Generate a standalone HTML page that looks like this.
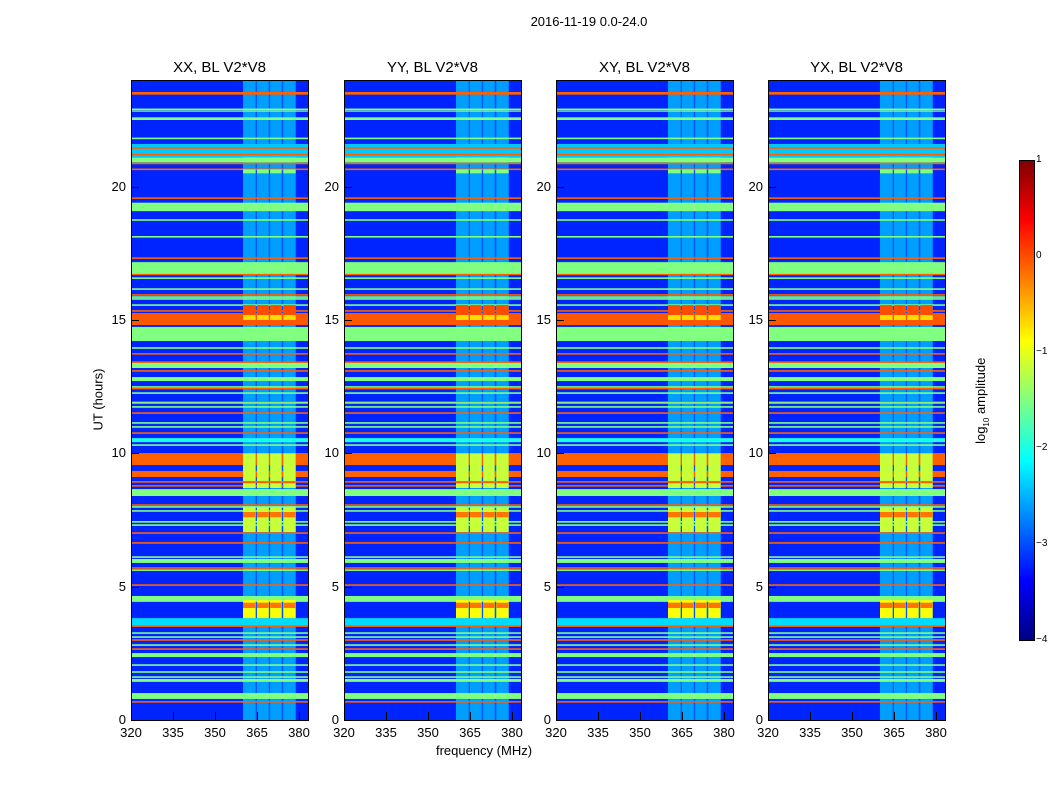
<!DOCTYPE html>
<html><head><meta charset="utf-8">
<style>
body{margin:0;background:#fff;width:1050px;height:800px;position:relative;overflow:hidden;font-family:"Liberation Sans",sans-serif;color:#000}
.t{position:absolute;white-space:nowrap}
canvas{position:absolute;image-rendering:pixelated}
.frame{position:absolute;border:1px solid #000;box-sizing:border-box}
</style></head>
<body>
<div class="t" style="left:489px;top:14px;width:200px;text-align:center;font-size:13px">2016-11-19 0.0-24.0</div>
<div class="t" style="left:48px;top:392px;width:100px;text-align:center;font-size:13px;transform:rotate(-90deg)">UT (hours)</div>
<div class="t" style="left:384px;top:743px;width:200px;text-align:center;font-size:13px">frequency (MHz)</div>
<div id="root"></div>
<canvas id="cbar" width="15" height="480" style="left:1019px;top:160px;width:15px;height:480px"></canvas>
<div class="frame" style="left:1019px;top:160px;width:16px;height:481px"></div>
<div class="t" style="left:932px;top:392px;width:100px;text-align:center;font-size:13px;transform:rotate(-90deg)">log<sub style="font-size:8px">10</sub> amplitude</div>
<script>
const panelTitles=["XX, BL V2*V8","YY, BL V2*V8","XY, BL V2*V8","YX, BL V2*V8"];
const xTicks=[320,335,350,365,380];
const yTicks=[0,5,10,15,20];
const cbTicks=[1,0,-1,-2,-3,-4];
const bgValue=-3.2;
const blockNoiseValue=-2.6;
const blockGapValue=-2.95;
const subBlocksMHz=[[360,364.5],[365,369.2],[369.7,373.8],[374.4,378.8]];
const bandStart=[23.45,22.87,22.81,22.5,21.78,21.1,21.42,21.17,20.9,20.84,20.62,19.54,19.08,18.72,18.09,17.29,16.72,16.68,16.54,16.13,15.91,15.83,15.76,15.53,15.31,14.81,14.21,13.92,13.7,13.39,13.2,13.06,12.71,12.46,12.4,12.23,11.89,11.86,11.71,11.48,11.11,10.96,10.73,10.42,10.28,9.56,9.11,8.9,8.75,8.4,8.03,7.96,7.81,7.4,7.28,6.98,6.61,6.08,5.89,5.67,5.59,5.03,4.43,3.52,3.49,3.23,3.08,2.97,2.78,2.63,2.36,2.03,1.77,1.58,1.43,0.79,0.65];
const bandEnd=[23.55,22.93,22.86,22.6,21.84,21.6,21.48,21.23,21.1,20.9,20.68,19.6,19.4,18.78,18.15,17.35,17.17,16.73,16.6,16.19,15.97,15.89,15.82,15.59,15.37,15.26,14.74,13.98,13.76,13.45,13.39,13.12,12.86,12.52,12.45,12.29,11.95,11.92,11.77,11.54,11.17,11.02,10.79,10.57,10.34,10.01,9.34,8.96,8.81,8.66,8.09,8.02,7.87,7.46,7.34,7.04,6.67,6.14,6.04,5.73,5.65,5.09,4.65,3.82,3.55,3.29,3.14,3.03,2.84,2.69,2.51,2.09,1.83,1.64,1.54,1.01,0.71];
const bandValue=[-0.1,-1.5,-1.5,-1.5,-1.5,-2.4,-0.1,-0.1,-1.5,-0.1,-0.1,-0.1,-1.5,-1.5,-1.5,-0.1,-1.5,-0.1,-1.5,-1.5,-0.1,-1.5,-1.5,-1.5,-0.1,-0.05,-1.5,-1.5,-0.1,-0.1,-1.5,-0.1,-1.5,-1.5,-0.1,-1.5,-0.1,-1.5,-1.5,-0.1,-1.5,-1.5,-0.1,-2.0,-1.5,-0.1,-0.1,-0.1,-0.1,-1.5,-0.1,-1.5,-1.5,-1.5,-1.5,-0.1,-0.1,-1.5,-1.5,-0.1,-1.5,-0.1,-1.5,-2.3,-0.1,-1.5,-1.5,-0.1,-1.5,-0.1,-1.5,-1.5,-1.5,-1.5,-1.5,-1.5,-0.1];
const blockStart=[20.5,15.0,15.19,8.7,8.88,7.05,7.6,3.82,4.2];
const blockEnd=[20.65,15.19,15.56,10.0,8.96,7.99,7.8,4.5,4.4];
const blockValue=[-1.5,-0.7,0.0,-1.15,-0.1,-1.15,-0.2,-0.9,-0.2];

function jet(v){const t=Math.max(0,Math.min(1,(v+4)/5));
 const c=x=>Math.round(255*Math.max(0,Math.min(1,x)));
 return `rgb(${c(1.5-Math.abs(4*t-3))},${c(1.5-Math.abs(4*t-2))},${c(1.5-Math.abs(4*t-1))})`;}
const W=177,H=640,X0=320;
const xs=m=>(m-X0)*2.8, ys=h=>(24-h)*H/24;
const lefts=[131,344,556,768];
const root=document.getElementById('root');
lefts.forEach((L,p)=>{
 const cv=document.createElement('canvas');
 
 
 cv.width=W;cv.height=H;cv.style.left=L+'px';cv.style.top='80px';cv.style.width=W+'px';cv.style.height=H+'px';
 root.appendChild(cv);
 const g=cv.getContext('2d');
 g.fillStyle=jet(bgValue);g.fillRect(0,0,W,H);
 g.fillStyle=jet(blockGapValue);g.fillRect(xs(subBlocksMHz[0][0]),0,xs(subBlocksMHz[3][1])-xs(subBlocksMHz[0][0]),H);
 subBlocksMHz.forEach(b=>{g.fillStyle=jet(blockNoiseValue);g.fillRect(xs(b[0]),0,xs(b[1])-xs(b[0]),H);});
 bandStart.forEach((s,i)=>{const y1=ys(bandEnd[i]),y2=ys(s);g.fillStyle=jet(bandValue[i]);g.fillRect(0,y1,W,Math.max(1.2,y2-y1));});
 blockStart.forEach((s,i)=>{const y1=ys(blockEnd[i]),y2=ys(s);g.fillStyle=jet(blockValue[i]);
  subBlocksMHz.forEach(b=>g.fillRect(xs(b[0]),y1,xs(b[1])-xs(b[0]),Math.max(1.2,y2-y1)));});
 const fr=document.createElement('div');fr.className='frame';
 
 
 fr.style.cssText=`left:${L}px;top:80px;width:${W+1}px;height:${H+1}px`;root.appendChild(fr);
 const ti=document.createElement('div');ti.className='t';
 
 
 ti.style.cssText=`left:${L-20}px;top:59px;width:${W+40}px;text-align:center;font-size:15px`;ti.textContent=panelTitles[p];root.appendChild(ti);
 xTicks.forEach(v=>{const x=L+xs(v);
  const tk=document.createElement('div');tk.className='t';
  
  
  tk.style.cssText=`left:${x}px;top:712px;width:1px;height:8px;background:#000`;root.appendChild(tk);
  const lb=document.createElement('div');lb.className='t';
  
  
  lb.style.cssText=`left:${x-20}px;top:725px;width:40px;text-align:center;font-size:13px`;lb.textContent=v;root.appendChild(lb);});
 yTicks.forEach(v=>{const y=80+ys(v);
  const tk=document.createElement('div');tk.className='t';
  
  
  tk.style.cssText=`left:${L}px;top:${y}px;width:8px;height:1px;background:#000`;root.appendChild(tk);
  const lb=document.createElement('div');lb.className='t';
  
  
  lb.style.cssText=`left:${L-45}px;top:${y-8}px;width:40px;text-align:right;font-size:13px`;lb.textContent=v;root.appendChild(lb);});
});
const cb=document.getElementById('cbar').getContext('2d');
for(let i=0;i<480;i++){cb.fillStyle=jet(1-5*i/480);cb.fillRect(0,i,15,1);}
cbTicks.forEach(v=>{const y=160+(1-v)/5*480;
 const lb=document.createElement('div');lb.className='t';
 
 
 lb.style.cssText=`left:1036px;top:${y-6}px;font-size:10px`;lb.textContent=v<0?'\u2212'+(-v):v;root.appendChild(lb);});
</script>
</body></html>
